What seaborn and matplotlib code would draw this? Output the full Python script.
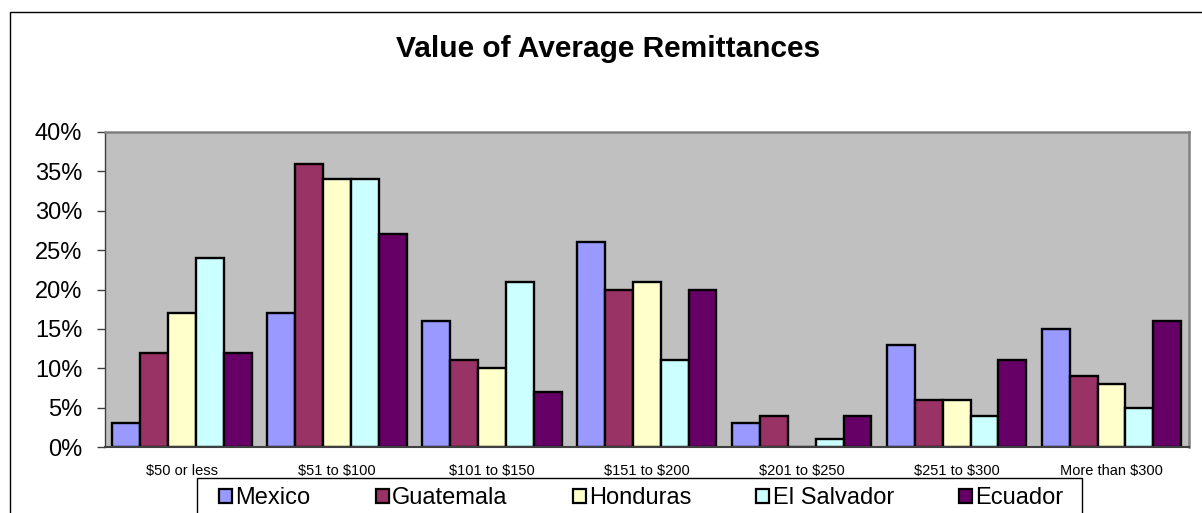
import matplotlib
matplotlib.use("Agg")
import matplotlib.pyplot as plt
import matplotlib.patches as mpatches
import pandas as pd
import seaborn as sns

# data (percent of senders)
ranges = ["$50 or less", "$51 to $100", "$101 to $150", "$151 to $200",
          "$201 to $250", "$251 to $300", "More than $300"]
countries = ["Mexico", "Guatemala", "Honduras", "El Salvador", "Ecuador"]
mexico = [3, 17, 16, 26, 3, 13, 15]
guatemala = [12, 36, 11, 20, 4, 6, 9]
honduras = [17, 34, 10, 21, 0, 6, 8]
el_salvador = [24, 34, 21, 11, 1, 4, 5]
ecuador = [12, 27, 7, 20, 4, 11, 16]
colors = ["#9999FF", "#993366", "#FFFFCC", "#CCFFFF", "#660066"]

series = [mexico, guatemala, honduras, el_salvador, ecuador]
rows = []
for name, vals in zip(countries, series):
    for r, v in zip(ranges, vals):
        rows.append({"range": r, "country": name, "value": v})
df = pd.DataFrame(rows)

sns.set_style("white", {"text.color": "black", "xtick.color": "black",
                        "ytick.color": "black", "axes.labelcolor": "black"})
plt.rcParams["font.family"] = ["Liberation Sans", "DejaVu Sans"]
plt.rcParams["text.parse_math"] = False  # keep the $ signs literal

W, H = 1202, 513
fig = plt.figure(figsize=(W / 100, H / 100), dpi=100)
ax = fig.add_axes([104.5 / W, 1 - 447 / H, (1189 - 104.5) / W, (447 - 132) / H])
ax.set_facecolor("#C0C0C0")

sns.barplot(data=df, x="range", y="value", hue="country", order=ranges,
            hue_order=countries, palette=colors, width=0.9, saturation=1,
            edgecolor="black", linewidth=1.7, ax=ax)
ax.legend_.remove()

ax.set_ylim(0, 40)
ax.set_xlim(-0.5, len(ranges) - 0.5)
ax.set_yticks(range(0, 41, 5))
ax.set_yticklabels([f"{t}%" for t in range(0, 41, 5)], fontsize=17)
ax.set_xticks(range(len(ranges)))
ax.set_xticklabels(ranges, fontsize=10.5)
ax.set_xlabel("")
ax.set_ylabel("")
ax.tick_params(axis="y", direction="out", length=6, width=1, color="#404040",
               pad=10, left=True)
ax.tick_params(axis="x", length=0, pad=12)

for side in ["top", "right"]:
    ax.spines[side].set_color("#808080")
    ax.spines[side].set_linewidth(1.8)
ax.spines["left"].set_color("#404040")
ax.spines["left"].set_linewidth(1)
ax.spines["bottom"].set_color("#404040")
ax.spines["bottom"].set_linewidth(1.5)

fig.text(608 / W, 1 - 57 / H, "Value of Average Remittances", ha="center",
         va="baseline", fontsize=21.5, fontweight="bold")

# outer chart border
fig.patches.append(mpatches.Rectangle((9.5 / W, -0.1), 1.2, 1 - 12 / H + 0.1,
                                      transform=fig.transFigure, fill=False,
                                      edgecolor="black", linewidth=1))

# legend box (Excel style, open at the bottom of the picture)
fig.patches.append(mpatches.Rectangle((197 / W, -0.1), (1082 - 197) / W,
                                      1 - 478 / H + 0.1,
                                      transform=fig.transFigure, fill=False,
                                      edgecolor="black", linewidth=1))

handles = [mpatches.Patch(facecolor=c, edgecolor="black", linewidth=1.6)
           for c in colors]
leg = fig.legend(handles, countries, loc="center left",
                 bbox_to_anchor=(219 / W, 1 - 498 / H), ncol=5,
                 fontsize=17, frameon=False,
                 handlelength=0.55, handleheight=0.55, handletextpad=0.15,
                 columnspacing=2.75, borderpad=0, borderaxespad=0)

fig.savefig("out.png", dpi=100)
